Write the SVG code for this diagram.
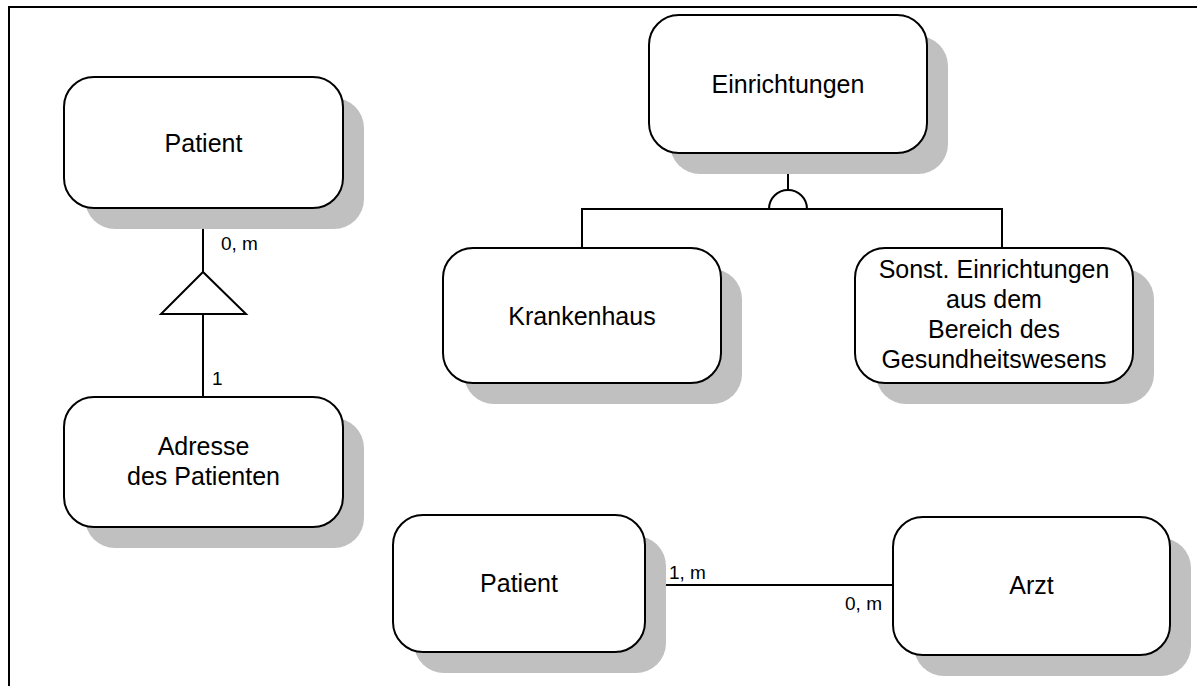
<svg xmlns="http://www.w3.org/2000/svg" width="1197" height="686" viewBox="0 0 1197 686">
  <style>
    .shadow { fill: #c0c0c0; stroke: none; }
    .box { fill: #ffffff; stroke: #000000; stroke-width: 2; }
    .lbl { font-family: "Liberation Sans", Arial, sans-serif; font-size: 25px; fill: #000000; text-anchor: middle; }
    .card { font-family: "Liberation Sans", Arial, sans-serif; font-size: 19px; fill: #000000; }
    .wire { fill: none; stroke: #000000; stroke-width: 2; }
  </style>
  <rect width="1197" height="686" fill="#ffffff"/>
  <!-- page frame -->
  <path class="wire" d="M9,686 V7 H1197"/>

  <!-- connectors -->
  <g id="connectors">
    <path class="wire" d="M203,208 V272"/>
    <polygon class="wire" points="203,272 161,314 246,314"/>
    <path class="wire" d="M203,314 V397"/>
    <path class="wire" d="M788,153 V191"/>
    <path class="wire" d="M769,209 A19,19 0 0 1 807,209"/>
    <path class="wire" d="M582,248 V209 H1002 V248"/>
    <path class="wire" d="M645,585 H893"/>
    <text class="card" x="221" y="250">0, m</text>
    <text class="card" x="212" y="385">1</text>
    <text class="card" x="669" y="579">1, m</text>
    <text class="card" x="882" y="610" text-anchor="end">0, m</text>
  </g>

  <g id="patient-top">
    <rect class="shadow" x="85" y="98" width="279" height="131" rx="30"/>
    <rect class="box" x="64" y="77" width="279" height="131" rx="30"/>
    <text class="lbl" x="203.5" y="151.5">Patient</text>
  </g>

  <g id="adresse">
    <rect class="shadow" x="85" y="418" width="279" height="130" rx="30"/>
    <rect class="box" x="64" y="397" width="279" height="130" rx="30"/>
    <text class="lbl" x="203.5" y="455">Adresse</text>
    <text class="lbl" x="203.5" y="485">des Patienten</text>
  </g>

  <g id="einrichtungen">
    <rect class="shadow" x="670" y="36" width="278" height="138" rx="30"/>
    <rect class="box" x="649" y="15" width="278" height="138" rx="30"/>
    <text class="lbl" x="788" y="93">Einrichtungen</text>
  </g>

  <g id="krankenhaus">
    <rect class="shadow" x="464" y="269" width="278" height="135" rx="30"/>
    <rect class="box" x="443" y="248" width="278" height="135" rx="30"/>
    <text class="lbl" x="582" y="324.5">Krankenhaus</text>
  </g>

  <g id="sonstige">
    <rect class="shadow" x="876" y="269" width="278" height="135" rx="30"/>
    <rect class="box" x="855" y="248" width="278" height="135" rx="30"/>
    <text class="lbl" x="994" y="278">Sonst. Einrichtungen</text>
    <text class="lbl" x="994" y="308">aus dem</text>
    <text class="lbl" x="994" y="338">Bereich des</text>
    <text class="lbl" x="994" y="368">Gesundheitswesens</text>
  </g>

  <g id="patient-bottom">
    <rect class="shadow" x="414" y="536" width="252" height="137" rx="30"/>
    <rect class="box" x="393" y="515" width="252" height="137" rx="30"/>
    <text class="lbl" x="519" y="592">Patient</text>
  </g>

  <g id="arzt">
    <rect class="shadow" x="914" y="538" width="277" height="138" rx="30"/>
    <rect class="box" x="893" y="517" width="277" height="138" rx="30"/>
    <text class="lbl" x="1031.5" y="594">Arzt</text>
  </g>
</svg>
